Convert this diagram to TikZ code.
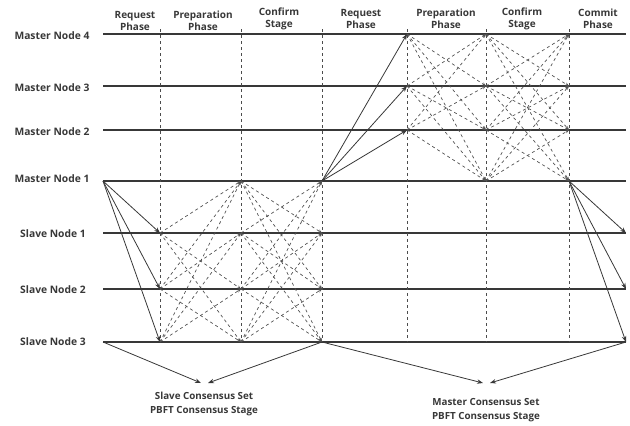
\documentclass[tikz,border=0pt]{standalone}
\usepackage{fontspec}
\setmainfont{Open Sans}
\usetikzlibrary{positioning, arrows.meta}

\tikzset{
  lane/.style={line width=1.2pt, draw=black!78},
  phaseline/.style={dashed, line width=0.9pt, draw=black!70},
  msg/.style={line width=0.8pt, draw=black!78, -{Stealth[length=6pt,width=4.5pt]}},
  vote/.style={dashed, line width=0.7pt, draw=black!68, -{Stealth[length=4pt,width=3pt]}},
  rowlabel/.style={font=\bfseries\fontsize{10.3}{12}\selectfont, text=black!78},
  headlabel/.style={font=\bfseries\fontsize{10}{12}\selectfont, text=black!78, align=center},
  setlabel/.style={font=\bfseries\fontsize{9.8}{13.5}\selectfont, text=black!78, align=center, anchor=north}
}

\begin{document}
\begin{tikzpicture}[x=1pt, y=-1pt]

  % Define the frame
  \useasboundingbox (0,0) rectangle (630,426);

  % Grid points: one row per node, one column per phase border
  \foreach \r/\y in {m4/34, m3/86, m2/130, m1/181, s1/233, s2/289, s3/342}
    \foreach \i/\x in {0/103, 1/160, 2/241, 3/322, 4/407, 5/486, 6/569, 7/626}
      \coordinate (\r-\i) at (\x,\y);
  \foreach \i/\x in {1/160, 2/241, 3/322, 4/407, 5/486, 6/569}
    \coordinate (t-\i) at (\x,29);

  % Row labels
  \node[rowlabel] (lab-m4) at (52,36) {Master Node 4};
  \node[rowlabel] (lab-m3) at (52,88) {Master Node 3};
  \node[rowlabel] (lab-m2) at (52,132) {Master Node 2};
  \node[rowlabel] (lab-m1) at (52,179) {Master Node 1};
  \node[rowlabel] (lab-s1) at (53,234) {Slave Node 1};
  \node[rowlabel] (lab-s2) at (53,290) {Slave Node 2};
  \node[rowlabel] (lab-s3) at (53,342) {Slave Node 3};

  % Phase headings
  \node[headlabel] (h-req1) at (135,21) {Request\\Phase};
  \node[headlabel] (h-pre1) at (203,21) {Preparation\\Phase};
  \node[headlabel] (h-con1) at (279,19) {Confirm\\Stage};
  \node[headlabel] (h-req2) at (361,19) {Request\\Phase};
  \node[headlabel] (h-pre2) at (446,19) {Preparation\\Phase};
  \node[headlabel] (h-con2) at (522,19) {Confirm\\Stage};
  \node[headlabel] (h-com2) at (598,19) {Commit\\Phase};

  % Node time lines
  \foreach \r in {m4, m3, m2, m1, s1, s2, s3}
    \draw[lane] (\r-0) -- (\r-7);

  % Phase borders
  \foreach \i in {1,...,6}
    \draw[phaseline] (t-\i) -- (s3-\i);

  % Slave set: request
  \foreach \b in {s1, s2, s3}
    \draw[msg] (m1-0) -- (\b-1);

  % Slave set: preparation and confirm
  \foreach \a in {s1, s2, s3}
    \foreach \b in {m1, s1, s2, s3}
      {\ifx\a\b\else\draw[vote] (\a-1) -- (\b-2);\fi}
  \foreach \a in {m1, s1, s2, s3}
    \foreach \b in {m1, s1, s2, s3}
      {\ifx\a\b\else\draw[vote] (\a-2) -- (\b-3);\fi}

  % Master set: request
  \foreach \b in {m2, m3, m4}
    \draw[msg] (m1-3) -- (\b-4);

  % Master set: preparation and confirm
  \foreach \a in {m2, m3, m4}
    \foreach \b in {m1, m2, m3, m4}
      {\ifx\a\b\else\draw[vote] (\a-4) -- (\b-5);\fi}
  \foreach \a in {m1, m2, m3, m4}
    \foreach \b in {m1, m2, m3, m4}
      {\ifx\a\b\else\draw[vote] (\a-5) -- (\b-6);\fi}

  % Master set: commit to slaves
  \foreach \b in {s1, s2, s3}
    \draw[msg] (m1-6) -- (\b-7);

  % Consensus sets
  \node[setlabel] (slaveset) at (204,389) {Slave Consensus Set\\PBFT Consensus Stage};
  \node[setlabel] (masterset) at (486,395) {Master Consensus Set\\PBFT Consensus Stage};
  \draw[msg] (s3-0) -- ([xshift=-3pt,yshift=6pt]slaveset.north);
  \draw[msg] (s3-3) -- ([xshift=4pt,yshift=6pt]slaveset.north);
  \draw[msg] (s3-3) -- ([xshift=-3pt,yshift=12pt]masterset.north);
  \draw[msg] (s3-7) -- ([xshift=4pt,yshift=12pt]masterset.north);

\end{tikzpicture}
\end{document}
